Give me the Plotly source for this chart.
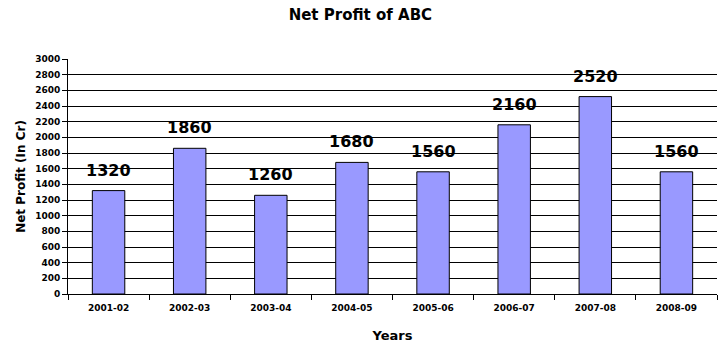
import plotly.graph_objects as go

# Net profit by financial year
years = ["2001-02", "2002-03", "2003-04", "2004-05", "2005-06", "2006-07", "2007-08", "2008-09"]
profit = [1320, 1860, 1260, 1680, 1560, 2160, 2520, 1560]
y_ticks = list(range(0, 3001, 200))

FONT = "DejaVu Sans"

fig = go.Figure(
    go.Bar(
        x=years,
        y=profit,
        marker=dict(color="#9999FF", line=dict(color="black", width=1)),
        width=0.4,
        hoverinfo="x+y",
    )
)

# Value labels above each bar
for yr, v in zip(years, profit):
    fig.add_annotation(
        x=yr, y=v, text=f"<b>{v}</b>", showarrow=False,
        yanchor="bottom", yshift=9,
        font=dict(family=FONT, size=16, color="black"),
    )

fig.update_layout(
    width=728, height=348,
    margin=dict(l=68, r=11, t=59, b=54),
    paper_bgcolor="white", plot_bgcolor="white",
    showlegend=False,
    title=dict(
        text="<b>Net Profit of ABC</b>", x=0.495, xanchor="center",
        y=0.958, yanchor="middle",
        font=dict(family=FONT, size=15, color="black"),
    ),
    font=dict(family=FONT, color="black"),
)

fig.update_xaxes(
    type="category",
    automargin=False,
    showline=True, linecolor="black", linewidth=1,
    ticks="outside", tickson="boundaries", ticklen=5, tickcolor="black",
    tickfont=dict(family=FONT, size=9, color="black"),
    ticklabelstandoff=5,
    tickprefix="<b>", ticksuffix="</b>",
    showgrid=False,
    title=dict(text="<b>Years</b>", font=dict(family=FONT, size=13, color="black"), standoff=19),
)

fig.update_yaxes(
    range=[0, 3000],
    tickvals=y_ticks,
    ticktext=[f"<b>{t}</b>" for t in y_ticks],
    showline=True, linecolor="black", linewidth=1,
    ticks="outside", ticklen=5, tickcolor="black",
    tickfont=dict(family=FONT, size=9, color="black"),
    showgrid=True, gridcolor="black", gridwidth=1,
    zeroline=False,
    title=dict(text="<b>Net Profit (In Cr)</b>", font=dict(family=FONT, size=12, color="black"), standoff=6),
)

fig.write_html("out.html")
